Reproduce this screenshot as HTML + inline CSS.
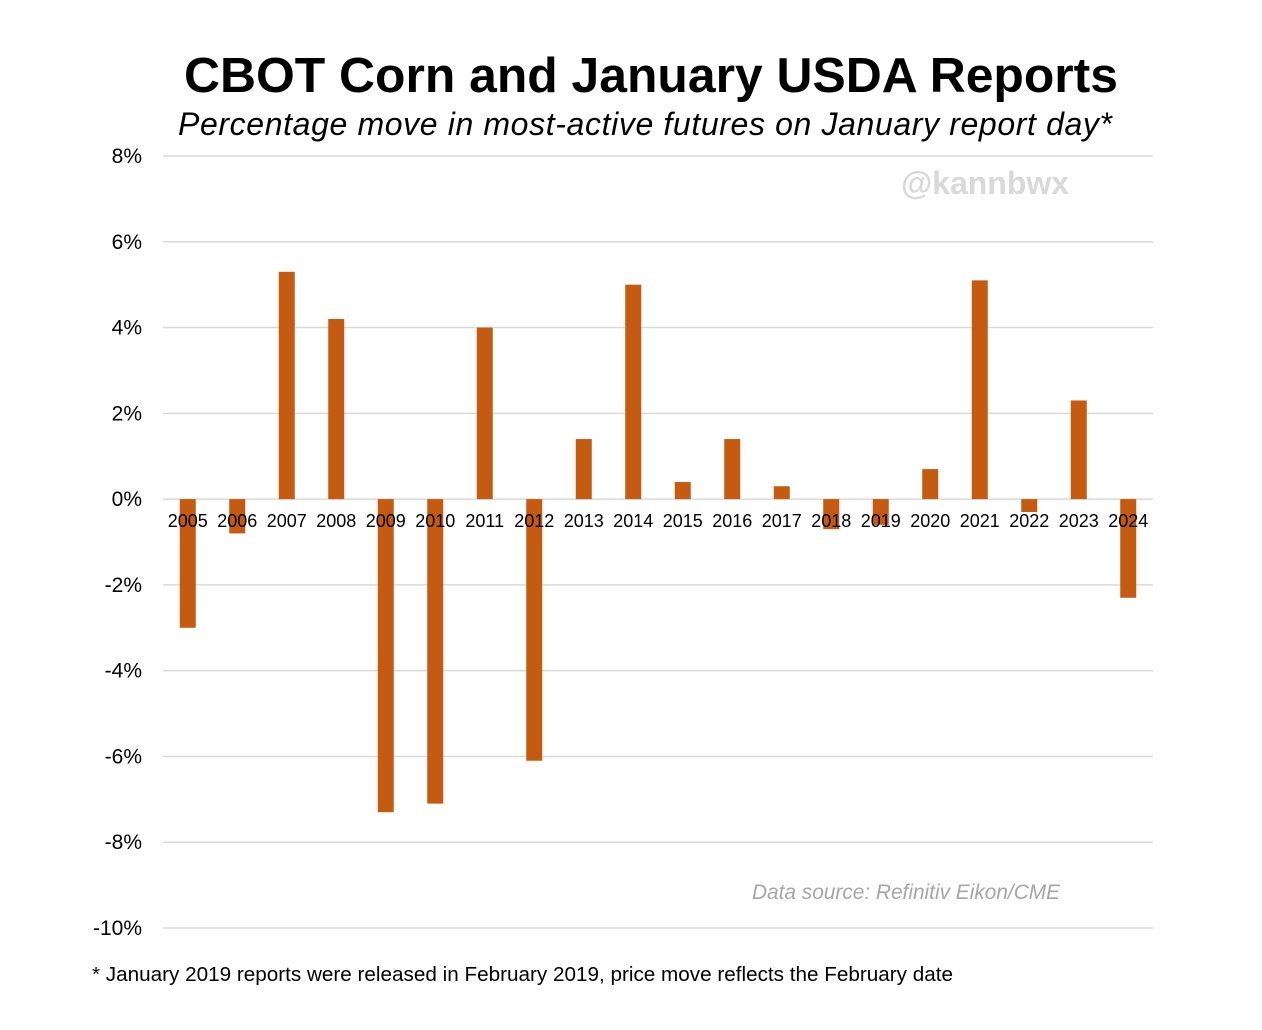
<!DOCTYPE html>
<html><head><meta charset="utf-8"><style>
body{margin:0;background:#fff;width:1262px;height:1025px;overflow:hidden;font-family:"Liberation Sans",Arial,sans-serif}
</style></head><body>
<svg id="chart" width="1262" height="1025" xmlns="http://www.w3.org/2000/svg" font-family="Liberation Sans, Arial, sans-serif">
<text x="184" y="92" textLength="934" lengthAdjust="spacingAndGlyphs" font-size="49" font-weight="bold" fill="#000">CBOT Corn and January USDA Reports</text>
<text x="178" y="135" textLength="934" lengthAdjust="spacing" font-size="32" font-style="italic" fill="#000">Percentage move in most-active futures on January report day*</text>
<text x="985" y="194" text-anchor="middle" font-size="32" font-weight="bold" fill="#d9d9d9">@kannbwx</text>
<text x="752" y="899" textLength="308" lengthAdjust="spacingAndGlyphs" font-size="21" font-style="italic" fill="#a6a6a6">Data source: Refinitiv Eikon/CME</text>
<text x="92" y="981" textLength="861" lengthAdjust="spacingAndGlyphs" font-size="20" fill="#000">* January 2019 reports were released in February 2019, price move reflects the February date</text>
<g id="grid"></g><g id="bars"></g><g id="labels"></g>
</svg>
<script>
const categories=["2005","2006","2007","2008","2009","2010","2011","2012","2013","2014","2015","2016","2017","2018","2019","2020","2021","2022","2023","2024"];
const values=[-3.0,-0.8,5.3,4.2,-7.3,-7.1,4.0,-6.1,1.4,5.0,0.4,1.4,0.3,-0.7,-0.6,0.7,5.1,-0.3,2.3,-2.3];
const yTicks=[8,6,4,2,0,-2,-4,-6,-8,-10];
const NS="http://www.w3.org/2000/svg";
const x0=163,x1=1153,yTop=156,yBot=928,vMax=8,vMin=-10;
const y=v=>yTop+(vMax-v)/(vMax-vMin)*(yBot-yTop);
const band=(x1-x0)/categories.length;
const xc=i=>x0+band*(i+0.5);
const grid=document.getElementById('grid'),bars=document.getElementById('bars'),labels=document.getElementById('labels');
yTicks.forEach(t=>{
 const l=document.createElementNS(NS,'line');
 
 
 l.setAttribute('x1',x0);l.setAttribute('x2',x1);l.setAttribute('y1',y(t));l.setAttribute('y2',y(t));
 l.setAttribute('stroke','#d9d9d9');l.setAttribute('stroke-width','1.5');
 grid.appendChild(l);
 const tx=document.createElementNS(NS,'text');
 
 
 tx.setAttribute('x',142);tx.setAttribute('y',y(t)+7);tx.setAttribute('text-anchor','end');tx.setAttribute('font-size','21');
 tx.textContent=t+'%';grid.appendChild(tx);
});
values.forEach((v,i)=>{
 const r=document.createElementNS(NS,'rect');
 
 
 const bw=16;
 r.setAttribute('x',xc(i)-bw/2);r.setAttribute('width',bw);
 r.setAttribute('y',Math.min(y(v),y(0)));r.setAttribute('height',Math.abs(y(v)-y(0)));
 r.setAttribute('fill','#C55A11');bars.appendChild(r);
 const tx=document.createElementNS(NS,'text');
 
 
 tx.setAttribute('x',xc(i));tx.setAttribute('y',y(0)+28);tx.setAttribute('text-anchor','middle');tx.setAttribute('font-size','18');
 tx.textContent=categories[i];labels.appendChild(tx);
});
</script>
</body></html>
